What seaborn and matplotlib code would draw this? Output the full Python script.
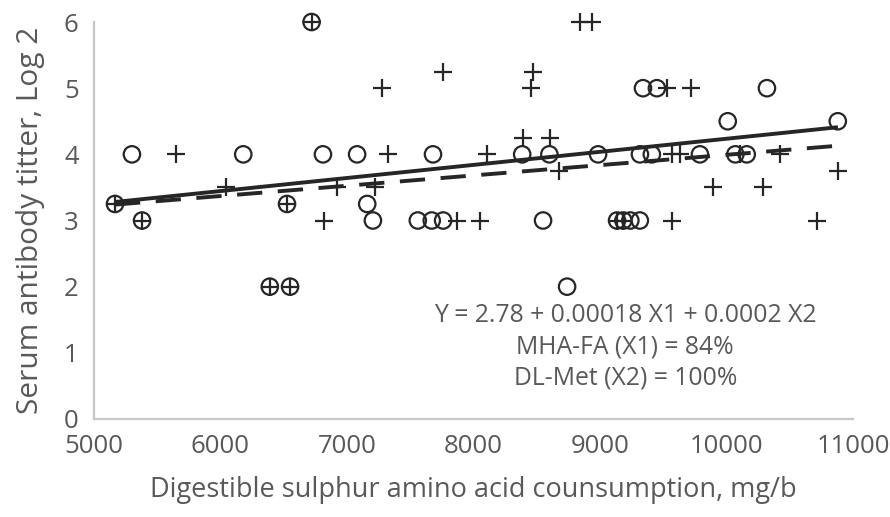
import numpy as np
import pandas as pd
import matplotlib
matplotlib.use("Agg")
import matplotlib.pyplot as plt
import seaborn as sns

# MHA-FA (X1) - open circles
mha_x = [5166, 5380, 5300, 6180, 6526, 6390, 6550, 6720, 6810, 7080, 7160, 7205,
         7560, 7670, 7760, 7680, 8385, 8550, 8600, 8740, 8985, 9135, 9185, 9240,
         9315, 9316, 9410, 9340, 9450, 9790, 10010, 10070, 10160, 10320, 10880]
mha_y = [3.25, 3, 4, 4, 3.25, 2, 2, 6, 4, 4, 3.25, 3,
         3, 3, 3, 4, 4, 3, 4, 2, 4, 3, 3, 3,
         3, 4, 4, 5, 5, 4, 4.5, 4, 4, 5, 4.5]

# DL-Met (X2) - plus marks
dl_x = [5166, 5380, 5650, 6040, 6526, 6390, 6550, 6720, 6820, 6920, 7220, 7280,
        7325, 7760, 7870, 8050, 8105, 8390, 8455, 8470, 8605, 8675, 8840, 8940,
        9135, 9185, 9530, 9570, 9570, 9630, 9720, 9895, 10110, 10290, 10420,
        10715, 10880]
dl_y = [3.25, 3, 4, 3.5, 3.25, 2, 2, 6, 3, 3.5, 3.5, 5,
        4, 5.25, 3, 3, 4, 4.25, 5, 5.25, 4.25, 3.75, 6, 6,
        3, 3, 5, 4, 3, 4, 5, 3.5, 4, 3.5, 4,
        3, 3.75]

# trend lines
trend_x = [5166, 10881]
trend_mha = [3.28, 4.41]
trend_dl = [3.24, 4.13]

x_ticks = [5000, 6000, 7000, 8000, 9000, 10000, 11000]
y_ticks = [0, 1, 2, 3, 4, 5, 6]

sns.set_style("white")
plt.rcParams['font.family'] = ['Open Sans', 'DejaVu Sans']

ink = '#262626'
grey_txt = '#595959'

fig = plt.figure(figsize=(8.9, 5.17), dpi=100)
ax = fig.add_axes([0.1056, 0.1896, 0.8528, 0.7678])

df_mha = pd.DataFrame({'x': mha_x, 'y': mha_y})
df_dl = pd.DataFrame({'x': dl_x, 'y': dl_y})

sns.scatterplot(data=df_mha, x='x', y='y', marker='o', s=140,
                facecolor='none', edgecolor=ink, linewidth=1.6, ax=ax,
                zorder=3, clip_on=False)
sns.scatterplot(data=df_dl, x='x', y='y', marker='+', s=170,
                color=ink, linewidth=1.6, ax=ax, zorder=3, clip_on=False)

ax.plot(trend_x, trend_mha, color=ink, lw=2.8, solid_capstyle='butt', zorder=2)
ax.plot(trend_x, trend_dl, color=ink, lw=2.8, linestyle=(0, (6.5, 4)), zorder=2)

ax.set_xlim(5000, 11000)
ax.set_ylim(0, 6)
ax.set_xticks(x_ticks)
ax.set_yticks(y_ticks)
ax.tick_params(axis='both', length=0, labelsize=18.5, colors=grey_txt)
ax.tick_params(axis='x', pad=11)
ax.tick_params(axis='y', pad=11)

for side in ['top', 'right']:
    ax.spines[side].set_visible(False)
for side in ['left', 'bottom']:
    ax.spines[side].set_color('#c8c8c8')
    ax.spines[side].set_linewidth(1.6)

ax.set_xlabel('Digestible sulphur amino acid counsumption, mg/b',
              fontsize=19.5, color=grey_txt, labelpad=12)
ax.set_ylabel('Serum antibody titter, Log 2', fontsize=21.5, color=grey_txt,
              labelpad=14)

ax.text(0.70, 0.181,
        'Y = 2.78 + 0.00018 X1 + 0.0002 X2\nMHA-FA (X1) = 84%\nDL-Met (X2) = 100%',
        transform=ax.transAxes, ha='center', va='center', fontsize=17.8,
        color=grey_txt, linespacing=1.33)

fig.savefig('out.png', dpi=100)
